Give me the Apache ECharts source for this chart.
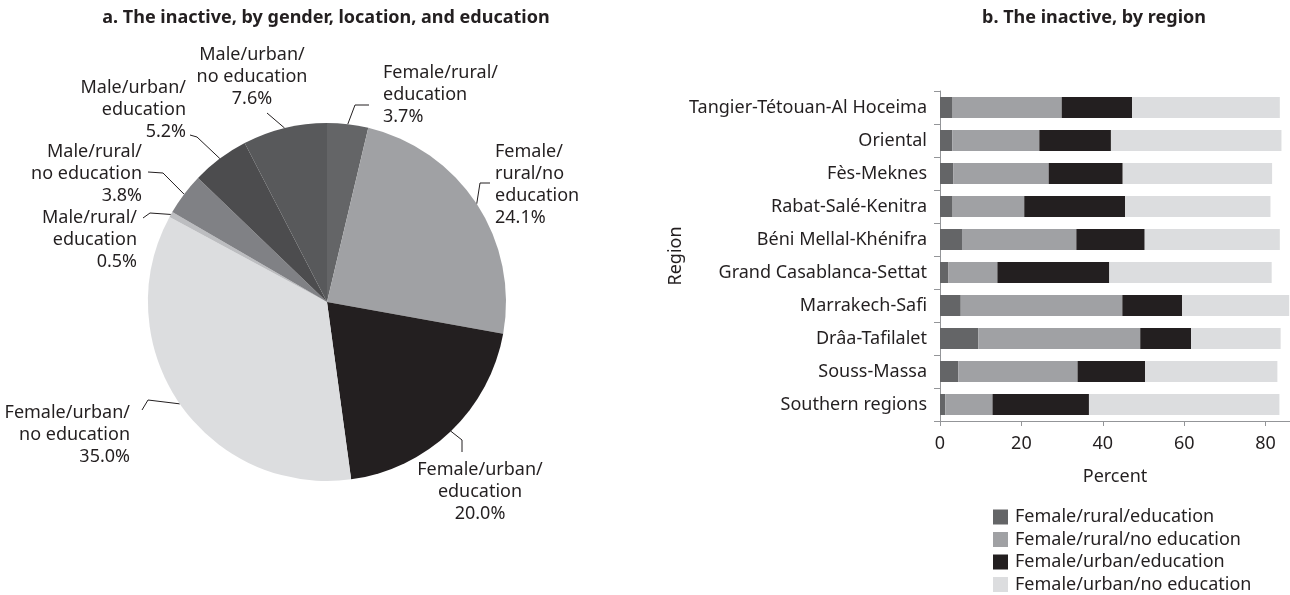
<!DOCTYPE html>
<html>
<head>
<meta charset="utf-8">
<script src="https://cdn.jsdelivr.net/npm/echarts@6/dist/echarts.min.js"></script>
<style>
  html, body { margin: 0; padding: 0; background: #fff; }
  #chart { width: 1290px; height: 595px; }
</style>
</head>
<body>
<div id="chart"></div>
<script>
// panel a: pie
const pieNames = [
  'Female/rural/education', 'Female/rural/no education', 'Female/urban/education', 'Female/urban/no education',
  'Male/rural/education', 'Male/rural/no education', 'Male/urban/education', 'Male/urban/no education'
]
const pieLabelText = [
  'Female/rural/\neducation', 'Female/\nrural/no\neducation', 'Female/urban/\neducation', 'Female/urban/\nno education',
  'Male/rural/\neducation', 'Male/rural/\nno education', 'Male/urban/\neducation', 'Male/urban/\nno education'
]
const pieValues = [3.7, 24.1, 20.0, 35.0, 0.5, 3.8, 5.2, 7.6]

// panel b: stacked bars, regions top to bottom
const regions = [
  'Tangier-Tétouan-Al Hoceima', 'Oriental', 'Fès-Meknes', 'Rabat-Salé-Kenitra', 'Béni Mellal-Khénifra',
  'Grand Casablanca-Settat', 'Marrakech-Safi', 'Drâa-Tafilalet', 'Souss-Massa', 'Southern regions'
]
const barSeriesNames = ['Female/rural/education', 'Female/rural/no education', 'Female/urban/education', 'Female/urban/no education']
const femRuralEdu = [3.1, 3.0, 3.3, 3.1, 5.4, 2.0, 5.1, 9.4, 4.5, 1.3]
const femRuralNoEdu = [26.8, 21.4, 23.4, 17.6, 28.1, 12.1, 39.7, 39.8, 29.3, 11.6]
const femUrbanEdu = [17.3, 17.6, 18.2, 24.8, 16.8, 27.5, 14.7, 12.5, 16.6, 23.7]
const femUrbanNoEdu = [36.3, 41.9, 36.7, 35.7, 33.2, 39.9, 26.3, 22.0, 32.5, 46.8]
const xTickValues = [0, 20, 40, 60, 80]

const pieColors = ['#646567', '#a0a1a4', '#231f20', '#dcdddf', '#bcbdc0', '#808185', '#4c4c4e', '#58595b']
const barColors = pieColors.slice(0, 4)
const ink = '#231f20'
const font = 'Noto Sans'
const fs = 18

// where each pie label sits, and the leader elbow relative to it
const labelPlace = [
  { x: 383, y: 95, align: 'left', p1: [-28, 10], p2: [-14, 10] },
  { x: 495, y: 185, align: 'left', p1: [-15, -2], p2: [-5, -2] },
  { x: 480, y: 492, align: 'center', p1: [-18, -52], p2: [-18, -40] },
  { x: 130, y: 435, align: 'right', p1: [18, -35], p2: [12, -25] },
  { x: 137, y: 240, align: 'right', p1: [13, -27], p2: [6, -22] },
  { x: 142, y: 174, align: 'right', p1: [21, -1], p2: [6, -2] },
  { x: 186, y: 110, align: 'right', p1: [11, 27], p2: [4, 25] },
  { x: 252, y: 77, align: 'center', p1: [15, 36], p2: [15, 36] }
]

const chart = echarts.init(document.getElementById('chart'))

const barData = [femRuralEdu, femRuralNoEdu, femUrbanEdu, femUrbanNoEdu]

const option = {
  animation: false,
  textStyle: { fontFamily: font, color: ink },
  title: [
    {
      text: 'a. The inactive, by gender, location, and education',
      left: 321, top: 4, textAlign: 'center',
      textStyle: { fontFamily: font, fontSize: fs, fontWeight: 'bold', color: ink }
    },
    {
      text: 'b. The inactive, by region',
      left: 1089, top: 4, textAlign: 'center',
      textStyle: { fontFamily: font, fontSize: fs, fontWeight: 'bold', color: ink }
    }
  ],
  legend: {
    data: barSeriesNames,
    orient: 'vertical',
    left: 988,
    top: 503,
    height: 110,
    itemWidth: 15,
    itemHeight: 15,
    itemGap: 4.5,
    icon: 'rect',
    textStyle: { fontFamily: font, fontSize: fs, color: ink, padding: [0, 0, 0, 2] }
  },
  grid: {
    left: 940,
    top: 91,
    width: 351,
    height: 330
  },
  xAxis: {
    type: 'value',
    min: 0,
    max: 86,
    interval: 20,
    name: 'Percent',
    nameLocation: 'middle',
    nameGap: 47,
    nameTextStyle: { fontFamily: font, fontSize: fs, color: ink },
    splitLine: { show: false },
    axisLine: { show: true, lineStyle: { color: '#939598', width: 1 } },
    axisTick: { show: true, length: 5, lineStyle: { color: '#939598' } },
    axisLabel: {
      fontFamily: font, fontSize: fs, color: ink, margin: 14, showMaxLabel: false,
      formatter: v => (xTickValues.indexOf(v) >= 0 ? String(v) : '')
    }
  },
  yAxis: {
    type: 'category',
    data: regions,
    inverse: true,
    name: 'Region',
    nameLocation: 'middle',
    nameRotate: 90,
    nameGap: 240,
    nameTextStyle: { fontFamily: font, fontSize: fs, color: ink },
    axisLine: { show: true, lineStyle: { color: '#939598', width: 1 } },
    axisTick: { show: true, length: 6, lineStyle: { color: '#939598' } },
    axisLabel: { fontFamily: font, fontSize: fs, color: ink, margin: 13 }
  },
  series: [
    {
      type: 'pie',
      center: [327, 302],
      radius: 179,
      startAngle: 90,
      clockwise: true,
      avoidLabelOverlap: false,
      itemStyle: { borderWidth: 0 },
      label: {
        show: true,
        position: 'outside',
        fontFamily: font,
        fontSize: fs,
        lineHeight: 22,
        color: ink,
        formatter: p => pieLabelText[p.dataIndex] + '\n' + p.value.toFixed(1) + '%'
      },
      labelLine: { show: true, lineStyle: { color: ink, width: 1 } },
      labelLayout: params => {
        const s = labelPlace[params.dataIndex]
        const p0 = params.labelLinePoints ? params.labelLinePoints[0] : [s.x, s.y]
        return {
          x: s.x,
          y: s.y,
          align: s.align,
          verticalAlign: 'middle',
          labelLinePoints: [
            p0,
            [s.x + s.p1[0], s.y + s.p1[1]],
            [s.x + s.p2[0], s.y + s.p2[1]]
          ]
        }
      },
      emphasis: { disabled: true },
      data: pieNames.map((n, i) => ({
        name: n,
        value: pieValues[i],
        itemStyle: { color: pieColors[i] }
      }))
    },
    ...barSeriesNames.map((n, i) => ({
      type: 'bar',
      name: n,
      stack: 'total',
      barWidth: 21,
      itemStyle: { color: barColors[i] },
      emphasis: { disabled: true },
      data: barData[i]
    }))
  ]
}

chart.setOption(option)
</script>
</body>
</html>
